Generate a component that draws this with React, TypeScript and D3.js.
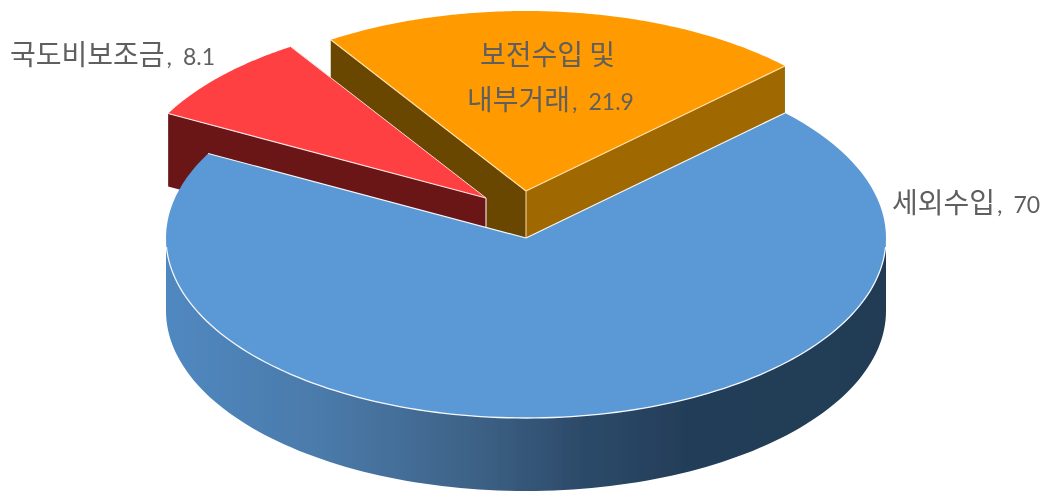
import React from "react";
import * as d3 from "d3";

const categories = ["세외수입", "국도비보조금", "보전수입 및 내부거래"];
const values = [70, 8.1, 21.9];
const topColors = ["#5a99d5", "#ff3f42", "#ff9a00"];

const W = 1047;
const H = 491;
const CX = 526;
const CY = 238;
const RX = 360;
const RY = 180;
const DEPTH = 73;
const START_DEG = 46;
const OFFSETS = [
  [0, 0],
  [-40, -40],
  [0, -47],
];
const HANGUL = "'Noto Sans CJK KR', sans-serif";
const LATIN = "Lato, sans-serif";
const EDGE = "#f4f7fb";

const sx = d3.scaleLinear().domain([-1, 1]).range([CX - RX, CX + RX]);
const sy = d3.scaleLinear().domain([-1, 1]).range([CY - RY, CY + RY]);

const pie = d3
  .pie<number>()
  .sort(null)
  .value((d) => d)
  .startAngle((START_DEG * Math.PI) / 180)
  .endAngle((START_DEG * Math.PI) / 180 + 2 * Math.PI);

const slices = pie(values);

const pt = (a: number, i: number, r = 1, dy = 0): [number, number] => [
  sx(r * Math.sin(a)) + OFFSETS[i][0],
  sy(-r * Math.cos(a)) + OFFSETS[i][1] + dy,
];

const arcPts = (a0: number, a1: number, i: number, dy = 0) =>
  d3.range(0, 121).map((k) => pt(a0 + ((a1 - a0) * k) / 120, i, 1, dy));

const line = d3.line();
const closed = (pts: [number, number][]) => line(pts) + "Z";

const sliceTop = (i: number) =>
  closed([pt(0, i, 0), ...arcPts(slices[i].startAngle, slices[i].endAngle, i)]);

const flatWall = (i: number, a: number) => {
  const o = pt(0, i, 0);
  const e = pt(a, i);
  return closed([o, e, [e[0], e[1] + DEPTH], [o[0], o[1] + DEPTH]]);
};

const curvedWall = (i: number, a0: number, a1: number) =>
  closed([...arcPts(a0, a1, i), ...arcPts(a1, a0, i, DEPTH)]);

const edgeLine = (i: number, a: number) => line([pt(0, i, 0), pt(a, i)]) as string;

const Num = ({ v }: { v: number }) => (
  <>
    <tspan fontFamily={LATIN} fontSize={24} dx={2}>,</tspan>
    <tspan fontFamily={LATIN} fontSize={23} dx={11}>{v}</tspan>
  </>
);

export default function App() {
  const blue = slices[0];
  const red = slices[1];
  const orange = slices[2];
  const wallA0 = Math.PI / 2;
  const wallA1 = (3 * Math.PI) / 2;
  const redApex = pt(0, 1, 0);
  const orangeApex = pt(0, 2, 0);

  return (
    <svg
      width={W}
      height={H}
      viewBox={`0 0 ${W} ${H}`}
      style={{ position: "absolute", left: 0, top: 0, display: "block", background: "#fff" }}
    >
      <defs>
        <linearGradient id="blueWall" gradientUnits="userSpaceOnUse" x1={sx(-1)} x2={sx(1)} y1={0} y2={0}>
          <stop offset="0" stopColor="#5088c0" />
          <stop offset="0.22" stopColor="#4a7aa9" />
          <stop offset="0.42" stopColor="#3e6388" />
          <stop offset="0.58" stopColor="#2c4a69" />
          <stop offset="0.72" stopColor="#243e59" />
          <stop offset="1" stopColor="#223b55" />
        </linearGradient>
        <filter id="soft" x="-2%" y="-2%" width="104%" height="104%">
          <feGaussianBlur stdDeviation="0.45" />
        </filter>
      </defs>

      <g filter="url(#soft)">
        {/* orange slice */}
        <path d={flatWall(2, orange.startAngle)} fill="#694600" />
        <path d={flatWall(2, orange.endAngle)} fill="#a06700" />
        <path d={sliceTop(2)} fill={topColors[2]} />
        <path d={edgeLine(2, orange.startAngle)} stroke="#ffe2a8" strokeWidth={1.2} fill="none" />
        <path d={edgeLine(2, orange.endAngle)} stroke="#ffe2a8" strokeWidth={1.2} fill="none" />
        <line
          x1={orangeApex[0]}
          x2={orangeApex[0]}
          y1={orangeApex[1]}
          y2={orangeApex[1] + DEPTH}
          stroke="#e8c98c"
          strokeWidth={1.2}
        />

        {/* red slice */}
        <path d={flatWall(1, red.startAngle)} fill="#6a1518" />
        <path d={sliceTop(1)} fill={topColors[1]} />
        <path d={edgeLine(1, red.startAngle)} stroke="#ffe3e3" strokeWidth={1.2} fill="none" />
        <path d={edgeLine(1, red.endAngle)} stroke="#ffd9d0" strokeWidth={1} fill="none" />
        <line
          x1={redApex[0]}
          x2={redApex[0]}
          y1={redApex[1]}
          y2={redApex[1] + DEPTH}
          stroke="#f2dada"
          strokeWidth={1.2}
        />

        {/* blue slice */}
        <path d={curvedWall(0, wallA0, wallA1)} fill="url(#blueWall)" />
        <path d={sliceTop(0)} fill={topColors[0]} />
        <path d={edgeLine(0, blue.startAngle)} stroke={EDGE} strokeWidth={1.2} fill="none" />
        <path d={edgeLine(0, blue.endAngle)} stroke={EDGE} strokeWidth={1.2} fill="none" />
        <path d={line(arcPts(wallA0 + 0.05, wallA1 - 0.05, 0)) as string} stroke={EDGE} strokeWidth={1.3} fill="none" />

        {/* labels */}
        <g fill="#5f5f5f" fontFamily={HANGUL} fontSize={28}>
          <text x={10} y={65}>
            {categories[1]}
            <Num v={values[1]} />
          </text>
          <text x={480} y={65}>보전수입 및</text>
          <text x={467} y={110}>
            내부거래
            <Num v={values[2]} />
          </text>
          <text x={892} y={213}>
            {categories[0]}
            <Num v={values[0]} />
          </text>
        </g>
      </g>
    </svg>
  );
}
